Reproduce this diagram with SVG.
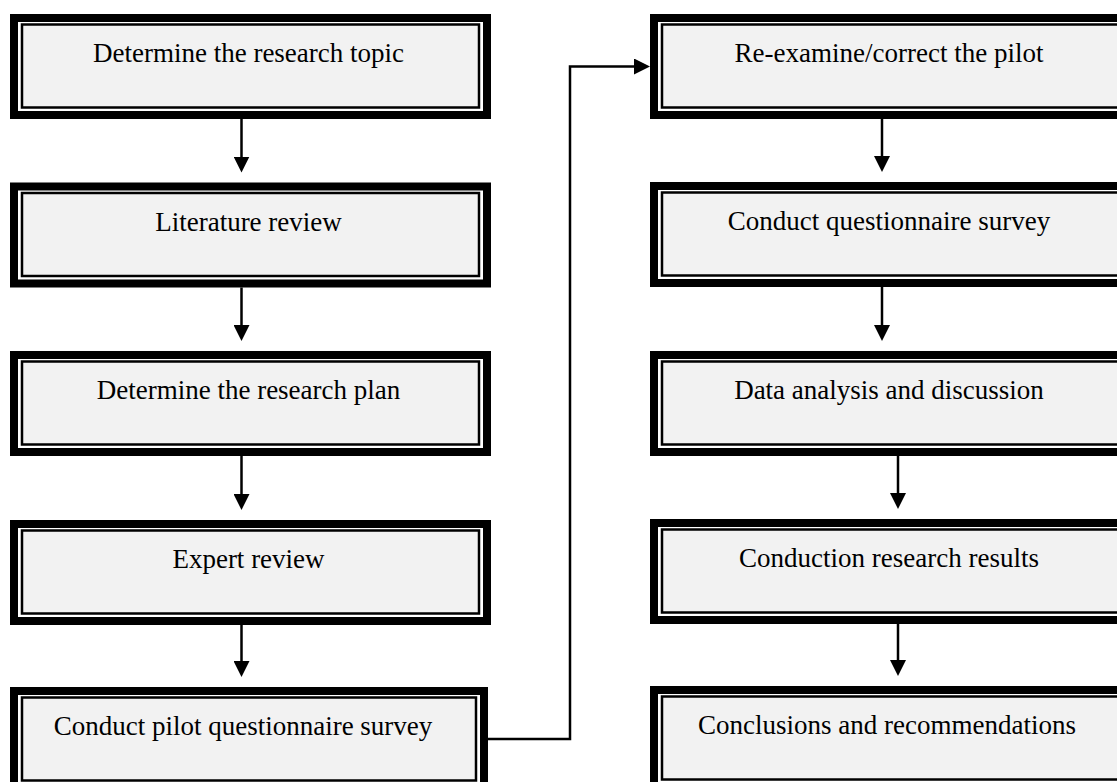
<svg xmlns="http://www.w3.org/2000/svg" width="1117" height="782" viewBox="0 0 1117 782">
<style>
.outer{fill:#ffffff;stroke:#000000;stroke-width:8}
.inner{fill:#f2f2f2;stroke:#000000;stroke-width:2.5}
.lbl{font-family:"Liberation Serif","Times New Roman",serif;font-size:27px;fill:#000000;text-anchor:middle}
.conn{fill:none;stroke:#000000;stroke-width:2.5}
</style>
<defs>
<marker id="ah" markerUnits="userSpaceOnUse" markerWidth="16" markerHeight="16" refX="12" refY="8" orient="auto">
<path d="M0,0 L16,8 L0,16 Z" fill="#000000"/>
</marker>
</defs>
<rect width="1117" height="782" fill="#ffffff"/>
<g id="n1">
<rect class="outer" x="14" y="18" width="473" height="97"/>
<rect class="inner" x="22" y="24.5" width="457" height="83"/>
<text class="lbl" x="248.5" y="62">Determine the research topic</text>
</g>
<g id="n2">
<rect class="outer" x="14" y="186.5" width="473" height="97"/>
<rect class="inner" x="22" y="193" width="457" height="83"/>
<text class="lbl" x="248.5" y="230.5">Literature review</text>
</g>
<g id="n3">
<rect class="outer" x="14" y="355" width="473" height="97"/>
<rect class="inner" x="22" y="361.5" width="457" height="83"/>
<text class="lbl" x="248.5" y="399">Determine the research plan</text>
</g>
<g id="n4">
<rect class="outer" x="14" y="524" width="473" height="97"/>
<rect class="inner" x="22" y="530.5" width="457" height="83"/>
<text class="lbl" x="248.5" y="568">Expert review</text>
</g>
<g id="n5">
<rect class="outer" x="14" y="691" width="470" height="97"/>
<rect class="inner" x="22" y="697.5" width="454" height="83"/>
<text class="lbl" x="243" y="735">Conduct pilot questionnaire survey</text>
</g>
<g id="n6">
<rect class="outer" x="654" y="18" width="473" height="97"/>
<rect class="inner" x="662" y="24.5" width="457" height="83"/>
<text class="lbl" x="889" y="62">Re-examine/correct the pilot</text>
</g>
<g id="n7">
<rect class="outer" x="654" y="186" width="473" height="97"/>
<rect class="inner" x="662" y="192.5" width="457" height="83"/>
<text class="lbl" x="889" y="230">Conduct questionnaire survey</text>
</g>
<g id="n8">
<rect class="outer" x="654" y="355" width="473" height="97"/>
<rect class="inner" x="662" y="361.5" width="457" height="83"/>
<text class="lbl" x="889" y="399">Data analysis and discussion</text>
</g>
<g id="n9">
<rect class="outer" x="654" y="523" width="473" height="97"/>
<rect class="inner" x="662" y="529.5" width="457" height="83"/>
<text class="lbl" x="889" y="567">Conduction research results</text>
</g>
<g id="n10">
<rect class="outer" x="654" y="690" width="473" height="97"/>
<rect class="inner" x="662" y="696.5" width="457" height="83"/>
<text class="lbl" x="887" y="734">Conclusions and recommendations</text>
</g>
<g id="connectors">
<line class="conn" x1="241.5" y1="119" x2="241.5" y2="168.5" marker-end="url(#ah)"/>
<line class="conn" x1="241.5" y1="287.5" x2="241.5" y2="337" marker-end="url(#ah)"/>
<line class="conn" x1="241.5" y1="456" x2="241.5" y2="506" marker-end="url(#ah)"/>
<line class="conn" x1="241.5" y1="625" x2="241.5" y2="673" marker-end="url(#ah)"/>
<polyline class="conn" points="488,739 570,739 570,66.5 646,66.5" marker-end="url(#ah)"/>
<line class="conn" x1="882" y1="119" x2="882" y2="168" marker-end="url(#ah)"/>
<line class="conn" x1="882" y1="287" x2="882" y2="337" marker-end="url(#ah)"/>
<line class="conn" x1="898" y1="456" x2="898" y2="505" marker-end="url(#ah)"/>
<line class="conn" x1="898" y1="624" x2="898" y2="672" marker-end="url(#ah)"/>
</g>
</svg>
